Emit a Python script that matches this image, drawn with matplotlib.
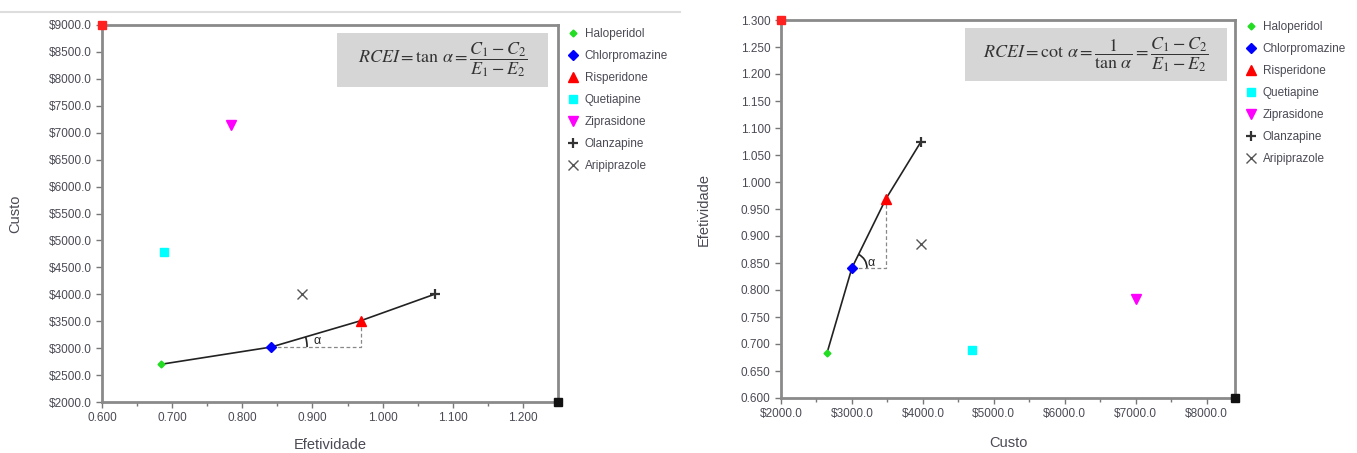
import matplotlib
matplotlib.use("Agg")
import matplotlib.pyplot as plt
import numpy as np
from matplotlib.lines import Line2D
from matplotlib.patches import Arc, Rectangle
from matplotlib.ticker import FuncFormatter, MultipleLocator
from matplotlib.transforms import IdentityTransform

plt.rcParams["font.family"] = ["Liberation Sans", "DejaVu Sans"]
plt.rcParams["mathtext.fontset"] = "stix"

# ---- data ----
DRUGS = ["Haloperidol", "Chlorpromazine", "Risperidone", "Quetiapine",
         "Ziprasidone", "Olanzapine", "Aripiprazole"]
EFETIVIDADE = [0.684, 0.841, 0.969, 0.688, 0.784, 1.075, 0.885]
CUSTO_ESQ = [2700, 3020, 3510, 4780, 7150, 4005, 4005]   # left panel
CUSTO_DIR = [2650, 3000, 3480, 4690, 7010, 3975, 3980]   # right panel
FRONTEIRA = [0, 1, 2, 5]   # Haloperidol -> Chlorpromazine -> Risperidone -> Olanzapine

STYLES = {
    "Haloperidol":    dict(marker="D", color="#22dd22", ms=3.5),
    "Chlorpromazine": dict(marker="D", color="#0000ff", ms=5),
    "Risperidone":    dict(marker="^", color="#ff0000", ms=7),
    "Quetiapine":     dict(marker="s", color="#00ffff", ms=6),
    "Ziprasidone":    dict(marker="v", color="#ff00ff", ms=7),
    "Olanzapine":     dict(marker="+", color="#333333", ms=7, mew=1.6),
    "Aripiprazole":   dict(marker="x", color="#555555", ms=7, mew=1.0),
}

GRAY_TXT = "#4a4a55"
SPINE = "#8a8a8a"

fig = plt.figure(figsize=(13.57, 4.53), dpi=100)
W, H = 1357, 453


def px_axes(x0, y0, x1, y1):
    return fig.add_axes([x0 / W, 1 - y1 / H, (x1 - x0) / W, (y1 - y0) / H])


def style_axes(ax):
    for s in ax.spines.values():
        s.set_color(SPINE)
        s.set_linewidth(2)
    ax.tick_params(which="both", direction="out", color="#777777",
                   labelcolor=GRAY_TXT, labelsize=8.5, width=1)
    ax.tick_params(which="major", length=4)
    ax.tick_params(which="minor", length=3)


def draw_points(ax, xs, ys):
    fx = [xs[i] for i in FRONTEIRA]
    fy = [ys[i] for i in FRONTEIRA]
    ax.plot(fx, fy, color="#222222", lw=1.2, zorder=2)
    for name, x, y in zip(DRUGS, xs, ys):
        st = STYLES[name]
        ax.plot([x], [y], linestyle="none", marker=st["marker"], color=st["color"],
                ms=st["ms"], mew=st.get("mew", 1), label=name, zorder=3)


def corners(ax):
    x0, x1 = ax.get_xlim()
    y0, y1 = ax.get_ylim()
    ax.plot([x0], [y1], "s", color="#ff2020", ms=6, clip_on=False, zorder=5)
    ax.plot([x1], [y0], "s", color="#111111", ms=6, clip_on=False, zorder=5)


def angle_mark(ax, p, q, radius, text_off):
    # small arc between horizontal and frontier segment p->q (display space)
    c = ax.transData.transform(p)
    d = ax.transData.transform(q) - c
    ang = np.degrees(np.arctan2(d[1], d[0]))
    ax.add_patch(Arc(c, 2 * radius, 2 * radius, theta1=0, theta2=ang,
                     transform=IdentityTransform(), color="#222222", lw=1.2))
    ax.annotate("α", xy=p, xytext=text_off, textcoords="offset pixels",
                fontsize=9, color="#222222", ha="left", va="center")


def legend(ax, x_px, y_px):
    ax.legend(loc="upper left", bbox_to_anchor=(x_px / W, 1 - y_px / H),
              bbox_transform=fig.transFigure, frameon=False, fontsize=8.5,
              borderpad=0, borderaxespad=0, handlelength=1.0, handletextpad=0.5,
              labelspacing=0.85, labelcolor=GRAY_TXT)


def formula_box(x0, y0, x1, y1, tex, size):
    fig.add_artist(Rectangle((x0 / W, 1 - y1 / H), (x1 - x0) / W, (y1 - y0) / H,
                             transform=fig.transFigure, facecolor="#d6d6d6",
                             edgecolor="none", zorder=4))
    fig.text((x0 + x1) / 2 / W, 1 - (y0 + y1) / 2 / H, tex, ha="center",
             va="center", fontsize=size, color="#333333", zorder=5)


# thin rule at the top of the left figure
fig.add_artist(Line2D([0, 680 / W], [1 - 12 / H, 1 - 12 / H], color="#dddddd",
                      lw=1.5, transform=fig.transFigure))

# ---- left: custo vs efetividade ----
ax1 = px_axes(102, 25, 558, 402)
draw_points(ax1, EFETIVIDADE, CUSTO_ESQ)
ax1.set_xlim(0.6, 1.25)
ax1.set_ylim(2000, 9000)
ax1.xaxis.set_major_locator(MultipleLocator(0.1))
ax1.xaxis.set_minor_locator(MultipleLocator(0.05))
ax1.yaxis.set_major_locator(MultipleLocator(500))
ax1.xaxis.set_major_formatter(FuncFormatter(lambda v, p: f"{v:.3f}"))
ax1.yaxis.set_major_formatter(FuncFormatter(lambda v, p: f"${v:.1f}"))
style_axes(ax1)
ax1.set_xlabel("Efetividade", fontsize=10.5, color=GRAY_TXT, va="center")
ax1.set_ylabel("Custo", fontsize=10.5, color=GRAY_TXT, va="center")
ax1.xaxis.set_label_coords(0.5, -0.115)
ax1.yaxis.set_label_coords(-0.19, 0.5)
# dashed triangle chlorpromazine -> risperidone
c, r = 1, 2
ax1.plot([EFETIVIDADE[c], EFETIVIDADE[r], EFETIVIDADE[r]],
         [CUSTO_ESQ[c], CUSTO_ESQ[c], CUSTO_ESQ[r]],
         color="#888888", lw=0.9, ls=(0, (3, 2)), zorder=1)
corners(ax1)
legend(ax1, 567, 28)

# ---- right: efetividade vs custo ----
ax2 = px_axes(781, 20, 1235, 398)
draw_points(ax2, CUSTO_DIR, EFETIVIDADE)
ax2.set_xlim(2000, 8400)
ax2.set_ylim(0.6, 1.3)
ax2.xaxis.set_major_locator(MultipleLocator(1000))
ax2.xaxis.set_minor_locator(MultipleLocator(500))
ax2.yaxis.set_major_locator(MultipleLocator(0.05))
ax2.xaxis.set_major_formatter(FuncFormatter(lambda v, p: f"${v:.1f}"))
ax2.yaxis.set_major_formatter(FuncFormatter(lambda v, p: f"{v:.3f}"))
style_axes(ax2)
ax2.set_xlabel("Custo", fontsize=10.5, color=GRAY_TXT, va="center")
ax2.set_ylabel("Efetividade", fontsize=10.5, color=GRAY_TXT, va="center")
ax2.xaxis.set_label_coords(0.5, -0.12)
ax2.yaxis.set_label_coords(-0.17, 0.5)
ax2.plot([CUSTO_DIR[c], CUSTO_DIR[r], CUSTO_DIR[r]],
         [EFETIVIDADE[c], EFETIVIDADE[c], EFETIVIDADE[r]],
         color="#888888", lw=0.9, ls=(0, (3, 2)), zorder=1)
corners(ax2)
legend(ax2, 1245, 21)

angle_mark(ax1, (EFETIVIDADE[c], CUSTO_ESQ[c]), (EFETIVIDADE[r], CUSTO_ESQ[r]),
           36, (42, 6))
angle_mark(ax2, (CUSTO_DIR[c], EFETIVIDADE[c]), (CUSTO_DIR[r], EFETIVIDADE[r]),
           15, (16, 5))

formula_box(337, 33, 548, 87,
            r"$RCEI = \tan\,\alpha = \dfrac{C_1 - C_2}{E_1 - E_2}$", 13)
formula_box(965, 28, 1227, 81,
            r"$RCEI = \cot\,\alpha = \dfrac{1}{\tan\,\alpha} = \dfrac{C_1 - C_2}{E_1 - E_2}$", 13)

fig.savefig("out.png", dpi=100)
